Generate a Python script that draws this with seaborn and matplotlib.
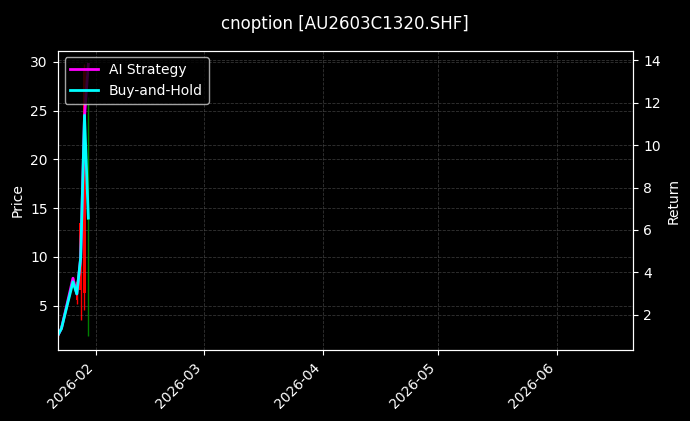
import numpy as np
import pandas as pd
import matplotlib
matplotlib.use("Agg")
import matplotlib.pyplot as plt
import matplotlib.dates as mdates
import seaborn as sns

# ---- data ----
dates = ["2026-01-22", "2026-01-23", "2026-01-26", "2026-01-27",
         "2026-01-28", "2026-01-29", "2026-01-30"]
open_px = [2.2, 2.6, 7.6, 7.4, 13.5, 29.0, 13.8]
high_px = [2.4, 3.0, 7.9, 7.6, 14.0, 29.76, 26.4]
low_px = [1.81, 2.5, 7.1, 5.2, 3.5, 4.6, 1.9]
close_px = [2.0, 2.9, 7.3, 5.6, 6.6, 6.3, 14.2]
ai_return = [1.0, 1.35, 3.72, 2.98, 4.68, 11.35, 13.82]
bh_return = [1.0, 1.35, 3.55, 2.98, 4.68, 11.41, 6.56]
title = "cnoption [AU2603C1320.SHF]"

plt.style.use("dark_background")
df = pd.DataFrame({
    "date": pd.to_datetime(dates),
    "open": open_px, "high": high_px, "low": low_px, "close": close_px,
    "ai": ai_return, "bh": bh_return,
})

fig = plt.figure(figsize=(6.9, 4.21), dpi=100)
ax = fig.add_axes([0.0835, 0.1675, 0.8346, 0.7125])
ax.set_facecolor("black")

up = df["close"] >= df["open"]
colors = np.where(up, "green", "red")
ax.vlines(df["date"], df["low"], df["high"], colors=colors, linewidth=1)
ax.bar(df["date"], (df["close"] - df["open"]).abs(),
       bottom=df[["open", "close"]].min(axis=1), width=0.6, color=colors)

ax2 = ax.twinx()
sns.lineplot(data=df, x="date", y="ai", ax=ax2, color="magenta", linewidth=2,
             label="AI Strategy")
sns.lineplot(data=df, x="date", y="bh", ax=ax2, color="cyan", linewidth=2,
             label="Buy-and-Hold")

ax.set_xlim(pd.Timestamp("2026-01-22"), pd.Timestamp("2026-06-21"))
ax.set_ylim(0.41, 31.15)
ax2.set_ylim(0.31, 14.47)

ax.xaxis.set_major_locator(mdates.MonthLocator())
ax.xaxis.set_major_formatter(mdates.DateFormatter("%Y-%m"))
plt.setp(ax.get_xticklabels(), rotation=45, ha="right")

ax.set_ylabel("Price")
ax2.set_ylabel("Return")
ax.set_xlabel("")
ax2.set_xlabel("")

for a in (ax, ax2):
    a.grid(True, linestyle="--", color="gray", alpha=0.4, linewidth=0.6)
    for s in a.spines.values():
        s.set_color("white")

ax2.legend(loc="upper left", fontsize=10)
fig.suptitle(title, fontsize=12, y=0.965)

fig.savefig("out.png", dpi=100, facecolor="black")
